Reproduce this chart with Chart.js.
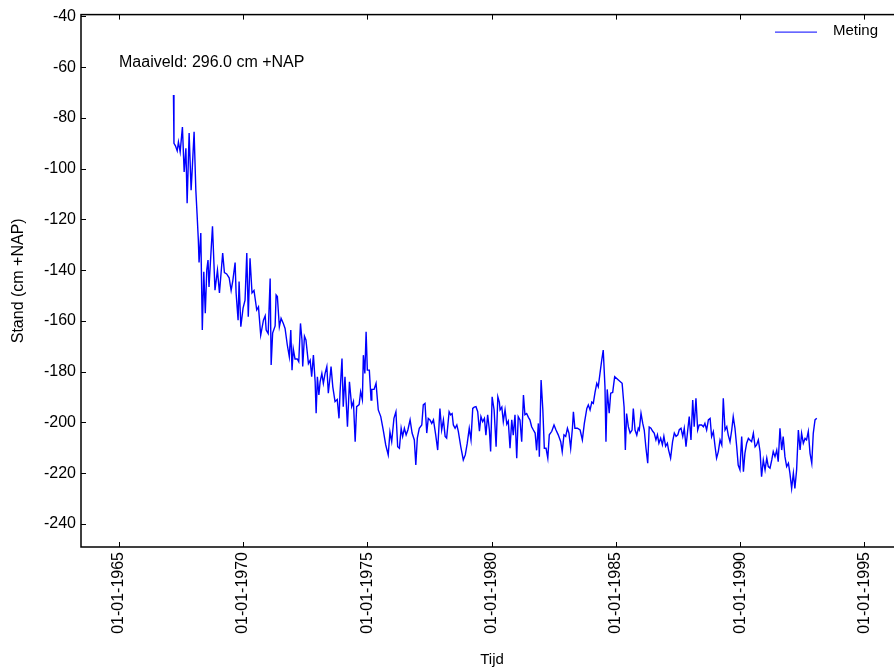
<!DOCTYPE html>
<html>
<head>
<meta charset="utf-8">
<script src="https://cdn.jsdelivr.net/npm/chart.js@4.4.0/dist/chart.umd.min.js"></script>
<style>
  html, body { margin: 0; padding: 0; background: #fff; overflow: hidden; }
  canvas { display: block; }
</style>
</head>
<body>
<canvas id="grafiek" width="905" height="669"></canvas>
<script>
// Meetreeks (tijd in decimale jaren, stand in cm +NAP)
const meetDatum = [
  1967.20, 1967.22, 1967.28, 1967.35, 1967.40, 1967.47, 1967.56, 1967.63, 1967.70, 1967.75,
  1967.83, 1967.91, 1967.96, 1968.03, 1968.10, 1968.15, 1968.20, 1968.23, 1968.30, 1968.36,
  1968.42, 1968.48, 1968.54, 1968.59, 1968.63, 1968.77, 1968.87, 1968.97, 1969.05, 1969.18,
  1969.25, 1969.34, 1969.44, 1969.52, 1969.59, 1969.68, 1969.72, 1969.80, 1969.84, 1969.91,
  1970.00, 1970.08, 1970.15, 1970.21, 1970.28, 1970.36, 1970.44, 1970.55, 1970.62, 1970.71,
  1970.82, 1970.89, 1970.93, 1971.01, 1971.09, 1971.13, 1971.19, 1971.29, 1971.33, 1971.38,
  1971.46, 1971.53, 1971.62, 1971.69, 1971.78, 1971.86, 1971.92, 1971.97, 1972.02, 1972.09,
  1972.18, 1972.24, 1972.31, 1972.37, 1972.40, 1972.47, 1972.53, 1972.63, 1972.70, 1972.76,
  1972.83, 1972.90, 1972.94, 1972.99, 1973.05, 1973.10, 1973.17, 1973.23, 1973.30, 1973.37,
  1973.43, 1973.50, 1973.54, 1973.61, 1973.70, 1973.79, 1973.86, 1973.90, 1973.98, 1974.03,
  1974.10, 1974.14, 1974.20, 1974.28, 1974.37, 1974.44, 1974.51, 1974.57, 1974.67, 1974.73,
  1974.80, 1974.84, 1974.90, 1974.95, 1975.00, 1975.08, 1975.15, 1975.18, 1975.27, 1975.35,
  1975.44, 1975.54, 1975.64, 1975.74, 1975.84, 1975.91, 1975.98, 1976.07, 1976.15, 1976.22,
  1976.29, 1976.36, 1976.42, 1976.49, 1976.56, 1976.63, 1976.72, 1976.80, 1976.89, 1976.95,
  1977.01, 1977.09, 1977.19, 1977.25, 1977.32, 1977.39, 1977.45, 1977.52, 1977.59, 1977.66,
  1977.75, 1977.83, 1977.92, 1977.99, 1978.06, 1978.13, 1978.19, 1978.29, 1978.35, 1978.41,
  1978.46, 1978.53, 1978.60, 1978.66, 1978.76, 1978.86, 1978.94, 1979.02, 1979.10, 1979.17,
  1979.24, 1979.30, 1979.37, 1979.44, 1979.51, 1979.57, 1979.64, 1979.71, 1979.77, 1979.84,
  1979.91, 1979.96, 1980.02, 1980.10, 1980.18, 1980.25, 1980.31, 1980.34, 1980.41, 1980.47,
  1980.54, 1980.61, 1980.67, 1980.74, 1980.81, 1980.87, 1980.94, 1981.01, 1981.07, 1981.14,
  1981.21, 1981.28, 1981.34, 1981.41, 1981.48, 1981.54, 1981.61, 1981.68, 1981.75, 1981.81,
  1981.88, 1981.92, 1981.99, 1982.06, 1982.12, 1982.19, 1982.26, 1982.32, 1982.42, 1982.51,
  1982.59, 1982.68, 1982.78, 1982.84, 1982.91, 1982.98, 1983.05, 1983.11, 1983.18, 1983.25,
  1983.29, 1983.35, 1983.45, 1983.56, 1983.65, 1983.73, 1983.83, 1983.89, 1983.96, 1984.03,
  1984.09, 1984.16, 1984.23, 1984.29, 1984.36, 1984.43, 1984.49, 1984.56, 1984.60, 1984.65,
  1984.73, 1984.79, 1984.87, 1984.95, 1985.10, 1985.25, 1985.33, 1985.38, 1985.43, 1985.50,
  1985.57, 1985.65, 1985.70, 1985.77, 1985.84, 1985.90, 1985.94, 1986.01, 1986.08, 1986.14,
  1986.21, 1986.28, 1986.34, 1986.41, 1986.48, 1986.54, 1986.61, 1986.67, 1986.73, 1986.80,
  1986.87, 1986.93, 1987.00, 1987.07, 1987.12, 1987.20, 1987.28, 1987.35, 1987.42, 1987.49,
  1987.55, 1987.62, 1987.69, 1987.75, 1987.82, 1987.89, 1987.95, 1988.02, 1988.09, 1988.15,
  1988.22, 1988.29, 1988.35, 1988.45, 1988.52, 1988.58, 1988.65, 1988.72, 1988.79, 1988.85,
  1988.92, 1988.99, 1989.05, 1989.12, 1989.19, 1989.26, 1989.32, 1989.39, 1989.46, 1989.52,
  1989.59, 1989.66, 1989.72, 1989.79, 1989.86, 1989.92, 1989.99, 1990.06, 1990.13, 1990.19,
  1990.26, 1990.33, 1990.39, 1990.46, 1990.53, 1990.60, 1990.66, 1990.73, 1990.80, 1990.86,
  1990.93, 1991.00, 1991.07, 1991.13, 1991.20, 1991.27, 1991.33, 1991.40, 1991.47, 1991.53,
  1991.60, 1991.67, 1991.73, 1991.80, 1991.87, 1991.94, 1992.00, 1992.07, 1992.14, 1992.20,
  1992.27, 1992.34, 1992.41, 1992.47, 1992.54, 1992.61, 1992.67, 1992.74, 1992.81, 1992.88,
  1992.94, 1993.01, 1993.08
];
const meetStand = [
  -71, -90, -91, -93, -89.5, -93.4, -83.6, -101.3, -92, -113.6,
  -86, -108.5, -99.3, -85.5, -108.5, -118, -128, -137, -125.4, -163.6,
  -140.6, -157, -140, -136, -146.6, -122.7, -147.9, -140, -149, -133.3,
  -141, -141.5, -143, -148, -144, -137, -149, -159.7, -144.5, -162.3,
  -155, -151.8, -133.3, -158.4, -135.3, -149, -148, -155.7, -154.5, -165.6,
  -159.7, -158, -163.6, -165, -143.3, -177.4, -164.8, -162, -149.8, -150.4,
  -162.3, -159, -161, -163, -169.5, -174.1, -163.6, -179.4, -171, -175,
  -175, -176.1, -161, -167.5, -178, -166, -167.5, -176.8, -175.5, -182,
  -173.5, -184, -196.4, -182, -189.2, -184, -180.7, -184.6, -180.7, -178,
  -188.5, -182, -178, -186, -191.8, -191, -198.4, -188.5, -174.8, -193.8,
  -182, -190, -201.7, -184, -193.8, -191.8, -207.6, -193.8, -193, -187.9,
  -191, -173.5, -180.7, -164.3, -179.4, -179.4, -191.2, -187, -187, -184.6,
  -195.1, -197.7, -203, -208.9, -212.8, -203.8, -207.6, -198.4, -195.8, -209.6,
  -210.2, -202.3, -205.5, -202.3, -204.9, -203, -199, -204.2, -206.9, -216.8,
  -206.2, -202.3, -201, -193.1, -192.5, -204.2, -198.4, -199, -200.4, -199,
  -204.9, -210.9, -194.5, -203, -199, -205.5, -206.2, -195.8, -197, -196.5,
  -201, -202.3, -201, -203.5, -209.6, -214.8, -212.8, -208.2, -202.3, -206.9,
  -194.5, -194, -193.8, -195.8, -203.5, -197.7, -199.7, -198.4, -205, -197,
  -203, -211.5, -189.9, -195.1, -209.6, -189.9, -192, -195.1, -194, -199.7,
  -195, -200.7, -199.5, -210.2, -199, -205, -197, -214.1, -197.7, -199,
  -207.6, -189.2, -197, -196.5, -198, -199, -201.7, -203, -204.2, -211,
  -200.4, -213.5, -183.3, -195, -210.2, -210.2, -214.1, -204.9, -203.5, -201,
  -203, -204.9, -207.6, -211.5, -204.9, -205.5, -202.3, -204.2, -210.2, -202.3,
  -195.8, -202.3, -202.3, -203, -206.9, -200.4, -194.5, -193.1, -195.1, -192,
  -192.5, -188.2, -184.6, -186, -180.7, -175.4, -171.5, -186, -207.6, -187,
  -196.4, -188.5, -188.2, -182, -183.3, -184.6, -194, -210.9, -196.5, -201.7,
  -204.2, -203, -194.5, -203, -205, -202.3, -203, -196.4, -200.4, -203,
  -210.2, -216.1, -201.8, -202.3, -203.5, -204.2, -206.9, -204.9, -208.2, -206.2,
  -208.8, -205.5, -209.4, -208.2, -210.9, -214.1, -207.6, -204.2, -205.5, -204.9,
  -202.9, -202.3, -205.5, -202.3, -209.6, -203, -197.7, -206.9, -191.2, -201.7,
  -190.5, -203, -201, -201, -201.7, -200.4, -203, -199, -198.4, -205.6,
  -203.6, -209.6, -214.1, -211.5, -206.9, -208.9, -190.5, -203, -201.7, -205,
  -207.6, -203, -197.7, -202.3, -209.6, -216.8, -218.7, -205.6, -219.4, -212.2,
  -208.2, -206.3, -206.9, -207.6, -204.3, -209.6, -208.9, -206.9, -211.5, -221.4,
  -214.8, -218.7, -214.1, -217.4, -218, -214.8, -211.5, -213.5, -210.9, -215.5,
  -202.3, -210.9, -205.6, -213.5, -217.4, -216.1, -220, -226, -220, -226,
  -218.7, -203, -210.9, -204.3, -208.2, -206.3, -206.9, -203.6, -212.2, -216.1,
  -204.3, -199, -198.4
];

// As-indeling
const xJaren = [1965, 1970, 1975, 1980, 1985, 1990, 1995];
const yTicks = [-40, -60, -80, -100, -120, -140, -160, -180, -200, -220, -240];
const xMin = 1963.48, xMax = 1996.55;
const yMin = -249.1, yMax = -39.3;

const maaiveldTekst = 'Maaiveld: 296.0 cm +NAP';
const lijnKleur = '#0000ff';
const lettertype = '"Liberation Sans", Arial, sans-serif';

Chart.defaults.font.family = lettertype;
Chart.defaults.color = '#000';

// Kader, inwaartse tickstreepjes, tekst en legenda
const kaderPlugin = {
    id: 'kader',
    afterDraw(chart) {
        const ctx = chart.ctx;
        const a = chart.chartArea;
        const x = chart.scales.x;
        const y = chart.scales.y;
        ctx.save();

        ctx.strokeStyle = '#000';
        ctx.lineWidth = 1;
        ctx.beginPath();
        x.ticks.forEach(t => {
            const px = Math.round(x.getPixelForValue(t.value)) + 0.5;
            ctx.moveTo(px, a.bottom); ctx.lineTo(px, a.bottom - 5);
            ctx.moveTo(px, a.top); ctx.lineTo(px, a.top + 5);
        });
        y.ticks.forEach(t => {
            const py = Math.round(y.getPixelForValue(t.value)) + 0.5;
            ctx.moveTo(a.left, py); ctx.lineTo(a.left + 5, py);
            ctx.moveTo(a.right, py); ctx.lineTo(a.right - 5, py);
        });
        ctx.stroke();

        ctx.lineWidth = 1.5;
        ctx.strokeRect(a.left, a.top, a.right - a.left, a.bottom - a.top);

        ctx.fillStyle = '#000';
        ctx.font = '16px ' + lettertype;
        ctx.textBaseline = 'middle';
        ctx.textAlign = 'left';
        ctx.fillText(maaiveldTekst, a.left + 38, a.top + 48);

        // legenda
        const ds = chart.data.datasets[0];
        ctx.strokeStyle = ds.borderColor;
        ctx.lineWidth = 1;
        ctx.beginPath();
        ctx.moveTo(a.right - 128, a.top + 17.5);
        ctx.lineTo(a.right - 86, a.top + 17.5);
        ctx.stroke();
        ctx.font = '15px ' + lettertype;
        ctx.fillText(ds.label, a.right - 70, a.top + 16);

        ctx.restore();
    }
};

new Chart(document.getElementById('grafiek'), {
    type: 'line',
    data: {
        datasets: [{
            label: 'Meting',
            data: meetDatum.map((d, i) => ({ x: d, y: meetStand[i] })),
            borderColor: lijnKleur,
            borderWidth: 1.4,
            pointRadius: 0,
            tension: 0,
            fill: false
        }]
    },
    options: {
        responsive: false,
        animation: false,
        layout: {
            padding: { top: 14, right: 2, left: 0, bottom: 0 }
        },
        plugins: {
            legend: { display: false },
            tooltip: { enabled: false }
        },
        scales: {
            x: {
                type: 'linear',
                min: xMin,
                max: xMax,
                afterBuildTicks: s => { s.ticks = xJaren.map(v => ({ value: v })); },
                afterFit: s => { s.height = 122; },
                grid: { display: false, drawTicks: false },
                border: { display: false },
                ticks: {
                    padding: 5,
                    minRotation: 90,
                    maxRotation: 90,
                    autoSkip: false,
                    font: { size: 16 },
                    callback: v => '01-01-' + v
                },
                title: {
                    display: true,
                    text: 'Tijd',
                    font: { size: 15 },
                    padding: { top: 0, bottom: 0 }
                }
            },
            y: {
                min: yMin,
                max: yMax,
                afterBuildTicks: s => { s.ticks = yTicks.map(v => ({ value: v })); },
                afterFit: s => { s.width = 81; },
                grid: { display: false, drawTicks: false },
                border: { display: false },
                ticks: {
                    padding: 5,
                    font: { size: 16 },
                    callback: v => String(v)
                },
                title: {
                    display: true,
                    text: 'Stand (cm +NAP)',
                    font: { size: 16 },
                    padding: { top: 9, bottom: 0 }
                }
            }
        }
    },
    plugins: [kaderPlugin]
});
</script>
</body>
</html>
